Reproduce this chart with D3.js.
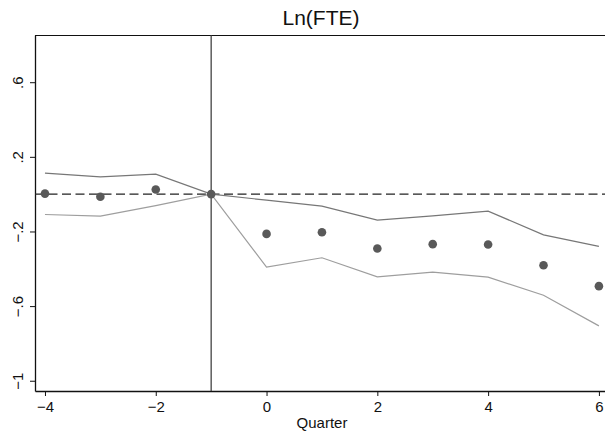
<!DOCTYPE html>
<html>
<head>
<meta charset="utf-8">
<script src="https://cdnjs.cloudflare.com/ajax/libs/d3/7.8.5/d3.min.js"></script>
<style>
  body { margin: 0; background: #fff; }
  text { font-family: "Liberation Sans", Arial, sans-serif; fill: #111; }
</style>
</head>
<body>
<div id="chart"></div>
<script>
// data
var quarters = [-4, -3, -2, -1, 0, 1, 2, 3, 4, 5, 6];
var estimate = [0.003, -0.014, 0.025, 0, -0.213, -0.204, -0.291, -0.268, -0.27, -0.381, -0.493];
var upperCI  = [0.113, 0.093, 0.107, 0, -0.032, -0.064, -0.139, -0.116, -0.091, -0.218, -0.28];
var lowerCI  = [-0.109, -0.118, -0.061, 0, -0.391, -0.341, -0.443, -0.418, -0.445, -0.542, -0.706];
var xTicks = [-4, -2, 0, 2, 4, 6];
var yTicks = [-1, -0.6, -0.2, 0.2, 0.6];
var eventQuarter = -1;

var W = 605, H = 432;
var margin = {top: 35, right: 0, bottom: 41, left: 35},
    width = W - margin.left - margin.right,
    height = H - margin.top - margin.bottom;

var x = d3.scaleLinear().domain([-4.18, 6.11]).range([0, width]);
var y = d3.scaleLinear().domain([-1.055, 0.853]).range([height, 0]);

var svg = d3.select("#chart").append("svg")
    .attr("width", W)
    .attr("height", H);

var g = svg.append("g")
    .attr("transform", "translate(" + margin.left + "," + margin.top + ")");

function fmt(v) {
    // stata style: .6, -.2
    var s = d3.format(".1f")(Math.abs(v)).replace(/^0/, "").replace(/\.0$/, "");
    return (v < 0 ? "\u2212" : "") + s;
}

// top line of frame
g.append("line")
    .attr("x1", 0).attr("x2", width)
    .attr("y1", 0.5).attr("y2", 0.5)
    .attr("stroke", "#111").attr("stroke-width", 1.2);

// y axis
var yAxis = g.append("g")
    .call(d3.axisLeft(y).tickValues(yTicks).tickSize(5).tickSizeOuter(0).tickFormat(fmt));
yAxis.select(".domain").attr("stroke", "#111").attr("stroke-width", 1.3);
yAxis.selectAll(".tick line").attr("stroke", "#111");
yAxis.selectAll(".tick text")
    .attr("transform", "rotate(-90)")
    .attr("x", 0).attr("y", -12)
    .attr("dy", 0)
    .attr("text-anchor", "middle")
    .style("font-size", "15px");

// x axis
var xAxis = g.append("g")
    .attr("transform", "translate(0," + height + ")")
    .call(d3.axisBottom(x).tickValues(xTicks).tickSize(5).tickSizeOuter(0).tickFormat(function(d) {
        return (d < 0 ? "\u2212" : "") + Math.abs(d);
    }));
xAxis.select(".domain").attr("stroke", "#111").attr("stroke-width", 1.3);
xAxis.selectAll(".tick line").attr("stroke", "#111");
xAxis.selectAll(".tick text")
    .attr("y", 21).attr("dy", 0)
    .style("font-size", "15px");

// zero reference line
g.append("line")
    .attr("x1", 0).attr("x2", width)
    .attr("y1", y(0)).attr("y2", y(0))
    .attr("stroke", "#222").attr("stroke-width", 1.3)
    .attr("stroke-dasharray", "9,4.5");

// event line
g.append("line")
    .attr("x1", x(eventQuarter)).attr("x2", x(eventQuarter))
    .attr("y1", 0).attr("y2", height)
    .attr("stroke", "#333").attr("stroke-width", 1.2);

var line = d3.line()
    .x(function(d) { return x(d[0]); })
    .y(function(d) { return y(d[1]); });

g.append("path")
    .datum(d3.zip(quarters, upperCI))
    .attr("fill", "none").attr("stroke", "#777").attr("stroke-width", 1.2)
    .attr("d", line);

g.append("path")
    .datum(d3.zip(quarters, lowerCI))
    .attr("fill", "none").attr("stroke", "#9e9e9e").attr("stroke-width", 1.2)
    .attr("d", line);

g.selectAll("circle.pt")
    .data(d3.zip(quarters, estimate))
    .enter().append("circle")
    .attr("class", "pt")
    .attr("cx", function(d) { return x(d[0]); })
    .attr("cy", function(d) { return y(d[1]); })
    .attr("r", 4.3)
    .attr("fill", "#595959");

// title and x label
svg.append("text")
    .attr("x", margin.left + width / 2 + 1)
    .attr("y", 25)
    .attr("text-anchor", "middle")
    .style("font-size", "21px")
    .text("Ln(FTE)");

svg.append("text")
    .attr("x", margin.left + width / 2 + 2)
    .attr("y", 428)
    .attr("text-anchor", "middle")
    .style("font-size", "15px")
    .text("Quarter");
</script>
</body>
</html>
